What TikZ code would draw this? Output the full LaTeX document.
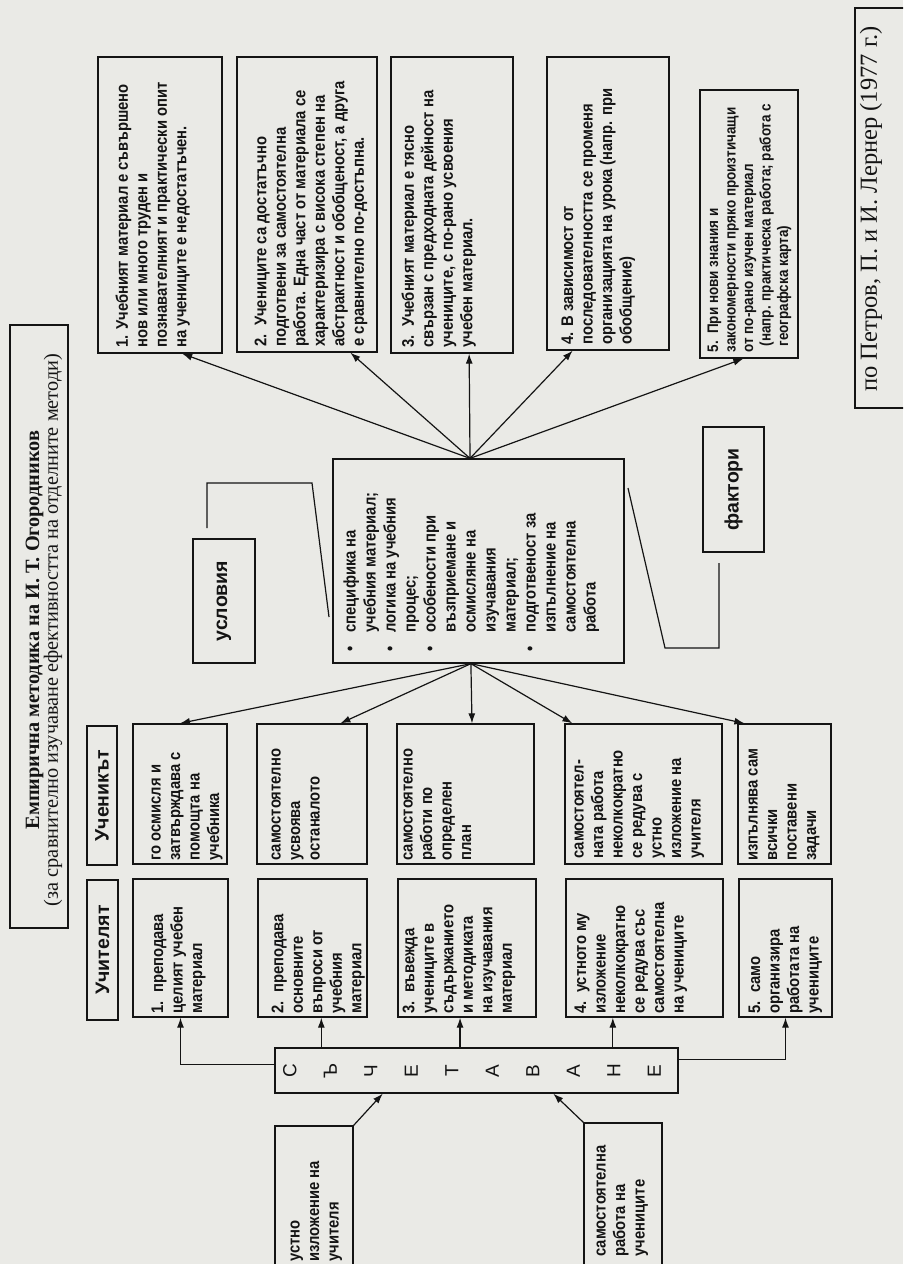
\documentclass[tikz,border=0pt]{standalone}
\usepackage{fontspec}
\setmainfont{Liberation Serif}
\newfontfamily\sansn[FakeStretch=0.88]{Liberation Sans}
\newfontfamily\sanswide{Liberation Sans}
\usetikzlibrary{arrows.meta,calc}
\definecolor{paper}{RGB}{234,234,230}
\definecolor{ink}{RGB}{20,20,20}
\newcommand\bodyf{\sansn\bfseries\fontsize{16.8pt}{19.5pt}\selectfont}
\newcommand\bitem{\makebox[27pt][l]{\hspace{8pt}•}}
\newcommand\bcont{\hspace*{27pt}}
\begin{document}
\begin{tikzpicture}[x=1pt,y=-1pt,
 bx/.style={draw=ink, line width=1.3pt, inner sep=0pt, rectangle},
 tx/.style={rotate=90, anchor=north west, align=left, inner xsep=6pt, inner ysep=14pt, font=\bodyf, text=ink},
 lbl/.style={rotate=90, font=\sanswide\bfseries\fontsize{19.5pt}{22pt}\selectfont, text=ink},
 arr/.style={draw=ink, line width=1.2pt, -{Latex[length=10pt,width=7pt]}},
 ln/.style={draw=ink, line width=1.2pt},
]
\fill[paper] (0,0) rectangle (903,1264);
\useasboundingbox (0,0) rectangle (903,1264);
\clip (0,0) rectangle (903,1264);

% title and source
\node[bx, rotate=90, minimum width=603pt, minimum height=58pt] (title) at (39,626.5) {};
\node[rotate=90, align=center, text=ink, font=\fontsize{20.3pt}{18.8pt}\selectfont] (titlet) at (44,630)
 {\textbf{Емпирична методика на И. Т. Огородников}\\(за сравнително изучаване ефективността на отделните методи)};
\node[bx, rotate=90, minimum width=400pt, minimum height=55pt] (src) at (882.5,208) {};
\node[rotate=90, text=ink, font=\fontsize{24.5pt}{26pt}\selectfont] (srct) at (871,209) {по Петров, П. и И. Лернер (1977 г.)};

% top boxes
\node[bx, minimum width=124pt, minimum height=296pt] (r1) at (160,205) {};
\node[tx, inner ysep=18pt] (r1t) at (r1.south west) {1. Учебният материал е съвършено\\нов или много труден и\\познавателният и практически опит\\на учениците е недостатъчен.};
\node[bx, minimum width=140pt, minimum height=295pt] (r2) at (307,204.5) {};
\node[tx, inner ysep=18pt] (r2t) at (r2.south west) {2.~~Учениците са достатъчно\\подготвени за самостоятелна\\работа. Една част от материала се\\характеризира с висока степен на\\абстрактност и обобщеност, а друга\\е сравнително по-достъпна.};
\node[bx, minimum width=122pt, minimum height=296pt] (r3) at (452,205) {};
\node[tx, inner ysep=11pt] (r3t) at (r3.south west) {3.~~Учебният материал е тясно\\свързан с предходната дейност на\\учениците, с по-рано усвоения\\учебен материал.};
\node[bx, minimum width=122pt, minimum height=293pt] (r4) at (608,203.5) {};
\node[tx, inner ysep=15pt] (r4t) at (r4.south west) {4. В зависимост от\\последователността се променя\\организацията на урока (напр. при\\обобщение)};
\node[bx, minimum width=98pt, minimum height=268pt] (r5) at (749,224) {};
\node[tx, inner ysep=8pt, font=\sansn\bfseries\fontsize{15.3pt}{17.5pt}\selectfont] (r5t) at (r5.south west) {5.~~При нови знания и\\закономерности пряко произтичащи\\от по-рано изучен материал\\\hspace*{6pt}(напр. практическа работа; работа с\\\hspace*{6pt}географска карта)};

% central box
\node[bx, minimum width=291pt, minimum height=204pt] (cb) at (478.5,561) {};
\node[tx, inner ysep=11pt, inner xsep=4pt, font=\bodyf\fontsize{16.8pt}{20pt}\selectfont] (cbt) at (cb.south west)
 {\bitem специфика на\\\bcont учебния материал;\\\bitem логика на учебния\\\bcont процес;\\\bitem особености при\\\bcont възприемане и\\\bcont осмисляне на\\\bcont изучавания\\\bcont материал;\\\bitem подготвеност за\\\bcont изпълнение на\\\bcont самостоятелна\\\bcont работа};

\node[bx, lbl, minimum width=124pt, minimum height=62pt] (usl) at (224,601) {условия};
\node[bx, lbl, minimum width=125pt, minimum height=61pt] (fak) at (733.5,489.5) {фактори};
\coordinate (uS) at (207,528); \coordinate (uE) at (329,617);
\draw[ln] (uS) -- (207,483) -- (312,483) -- (uE);
\coordinate (fS) at (719,563); \coordinate (fE) at (628,488);
\draw[ln] (fS) -- (719,648) -- (665,648) -- (fE);

% headers
\node[bx, lbl, minimum width=139pt, minimum height=30pt] (hs) at (102,795.5) {Ученикът};
\node[bx, lbl, minimum width=140pt, minimum height=31pt] (ht) at (102.5,950) {Учителят};

% student row
\node[bx, minimum width=94pt, minimum height=140pt] (s1) at (180,794) {};
\node[tx, inner ysep=19pt, inner xsep=4pt] (s1t) at (s1.south west) {го осмисля и\\затвърждава с\\помощта на\\учебника};
\node[bx, minimum width=110pt, minimum height=140pt] (s2) at (312,794) {};
\node[tx, inner ysep=15pt, inner xsep=4pt] (s2t) at (s2.south west) {самостоятелно\\усвоява\\останалото};
\node[bx, minimum width=137pt, minimum height=140pt] (s3) at (465.5,794) {};
\node[tx, inner ysep=7pt, inner xsep=4pt] (s3t) at (s3.south west) {самостоятелно\\работи по\\определен\\план};
\node[bx, minimum width=157pt, minimum height=140pt] (s4) at (643.5,794) {};
\node[tx, inner ysep=10pt, inner xsep=6pt] (s4t) at (s4.south west) {самостоятел-\\ната работа\\неколкократно\\се редува с\\устно\\изложение на\\учителя};
\node[bx, minimum width=93pt, minimum height=140pt] (s5) at (784.5,794) {};
\node[tx, inner ysep=11pt, inner xsep=4pt] (s5t) at (s5.south west) {изпълнява сам\\всички\\поставени\\задачи};

% teacher row
\node[bx, minimum width=95pt, minimum height=138pt] (t1) at (180.5,948) {};
\node[tx, inner ysep=19pt, inner xsep=4pt] (t1t) at (t1.south west) {1.~~преподава\\целият учебен\\материал};
\node[bx, minimum width=109pt, minimum height=138pt] (t2) at (312.5,948) {};
\node[tx, inner ysep=14pt, inner xsep=4pt] (t2t) at (t2.south west) {2.~~преподава\\основните\\въпроси от\\учебния\\материал};
\node[bx, minimum width=138pt, minimum height=138pt] (t3) at (467,948) {};
\node[tx, inner ysep=5pt, inner xsep=4pt] (t3t) at (t3.south west) {3.~~въвежда\\учениците в\\съдържанието\\и методиката\\на изучавания\\материал};
\node[bx, minimum width=157pt, minimum height=138pt] (t4) at (644.5,948) {};
\node[tx, inner ysep=9pt, inner xsep=4pt] (t4t) at (t4.south west) {4.~~устното му\\изложение\\неколкократно\\се редува със\\самостоятелна\\на учениците};
\node[bx, minimum width=93pt, minimum height=138pt] (t5) at (785.5,948) {};
\node[tx, inner ysep=10pt, inner xsep=4pt] (t5t) at (t5.south west) {5.~~само\\организира\\работата на\\учениците};

% combination box
\node[bx, minimum width=403pt, minimum height=45pt] (sch) at (476.5,1070.5) {};
\node[rotate=90, align=center, text=ink, font=\sanswide\fontsize{19pt}{40.5pt}\selectfont] (scht) at (472,1071)
 {С\\Ъ\\Ч\\Е\\Т\\А\\В\\А\\Н\\Е};

% bottom sources
\node[bx, minimum width=78pt, minimum height=164pt] (ust) at (314,1208) {};
\node[tx, inner ysep=16pt, inner xsep=0pt] (ustt) at ($(ust.south west)+(0,-29)$) {устно\\изложение на\\учителя};
\node[bx, minimum width=78pt, minimum height=167pt] (sam) at (623,1206.5) {};
\node[tx, inner ysep=13pt, inner xsep=0pt] (samt) at ($(sam.south west)+(0,-34)$) {самостоятелна\\работа на\\учениците};

% fans
\coordinate (ctop) at ($(cb.north west)!0.471!(cb.north east)$);
\coordinate (cbot) at ($(cb.south west)!0.474!(cb.south east)$);
\foreach \n/\f in {r1/0.677, r2/0.807, r3/0.639, r4/0.213, r5/0.443}
  \draw[arr] (ctop) -- ($(\n.south west)!\f!(\n.south east)$);
\foreach \n/\f in {s1/0.5, s2/0.755, s3/0.547, s4/0.051, s5/0.075}
  \draw[arr] (cbot) -- ($(\n.north west)!\f!(\n.north east)$);

% combination connectors
\draw[arr] ($(sch.north west)!0.37!(sch.south west)$) -| (t1.south);
\coordinate (a2) at ($(t2.south west)!0.58!(t2.south east)$);
\draw[arr] (a2 |- sch.north) -- (a2);
\coordinate (a3) at ($(t3.south west)!0.45!(t3.south east)$);
\draw[arr] (a3 |- sch.north) -- (a3);
\coordinate (a4) at ($(t4.south west)!0.3!(t4.south east)$);
\draw[arr] (a4 |- sch.north) -- (a4);
\draw[arr] ($(sch.north east)!0.27!(sch.south east)$) -| (t5.south);
\draw[arr] (ust.north east) -- ($(sch.south west)!0.268!(sch.south east)$);
\draw[arr] (sam.north west) -- ($(sch.south west)!0.69!(sch.south east)$);
\end{tikzpicture}
\end{document}
